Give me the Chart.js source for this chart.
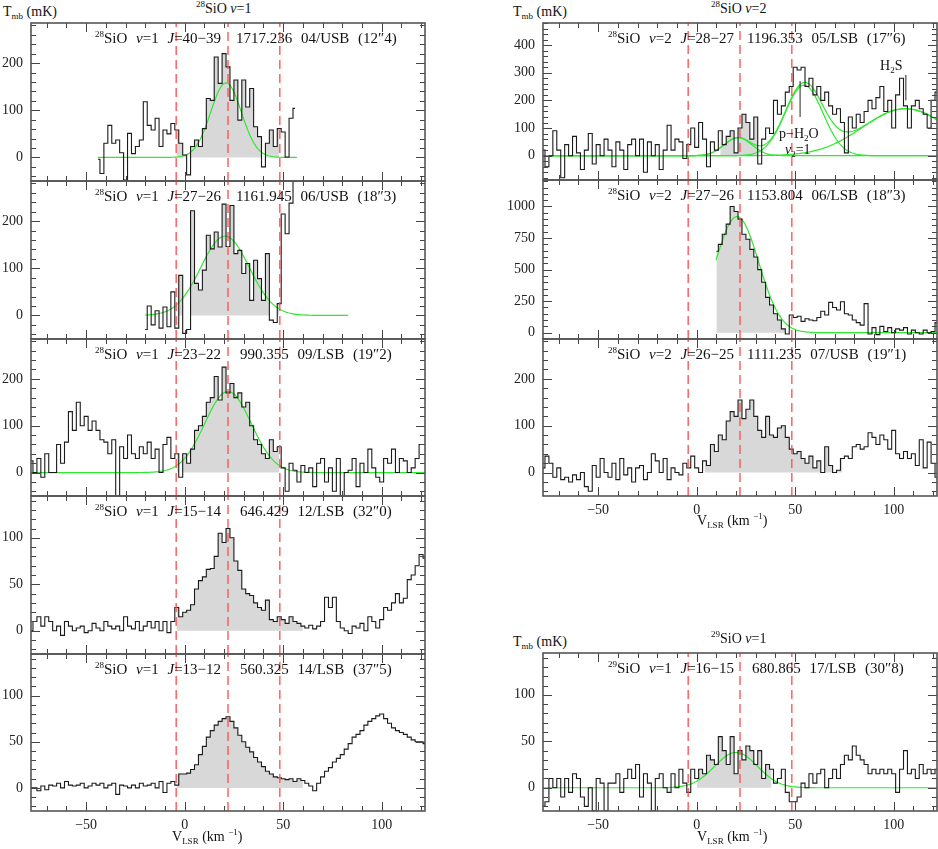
<!DOCTYPE html>
<html>
<head>
<meta charset="utf-8">
<script src="https://cdn.jsdelivr.net/npm/chart.js@4.4.0/dist/chart.umd.min.js"></script>
<style>
  body { margin: 0; background: #fff; }
  #wrap { position: relative; width: 938px; height: 849px; font-family: "Liberation Serif", serif; color: #111; }
  canvas { position: absolute; }
  .t { position: absolute; white-space: nowrap; line-height: 1; font-size: 14px; }
  .t sup { font-size: 9px; vertical-align: 6px; line-height: 0; }
  .t sub { font-size: 9px; vertical-align: -3px; line-height: 0; }
  .lab { font-size: 15px; word-spacing: 5px; }
</style>
</head>
<body>
<div id="wrap"></div>
<script>
// velocity axis (km/s) shared by all panels
const vRange = [-78, 122];
const xTicks = [-50, 0, 50, 100];
const redLines = [-4.3, 22, 48.3];
const chanWidth = 2;

// spectra: first channel velocity + Tmb values (mK), one value per 2 km/s channel
const startL1 = -44;
const specL1 = [-4, -34, 30, 68, 30, 37, 10, -48, 51, 8, 23, 37, 118, 68, 58, 83, 23, 58, 50, 72,
  58, 30, 5, -37, 23, 37, 23, 61, 125, 121, 213, 157, 220, 192, 121, 164, 79, 164, 107, 146,
  65, 44, -20, 30, 58, 23, 61, 54, 1, 83, 104];
const startL2 = -20;
const specL2 = [-30, 20, -20, 10, -27, 18, -24, 50, -27, 85, -38, -30, 222, 68, 54, 96, 170, 141, 177, 145,
  236, 146, 233, 131, 138, 89, 110, 32, 117, 78, 32, 131, -10, -15, 25, 215, 173, 238, 290];
const startL3 = -78;
const specL3 = [25, 0, 30, -10, 40, 0, 0, 60, 20, 65, 130, 90, 150, 100, 120, 90, 110, 90, 70, 65,
  40, 70, -50, 55, 30, 80, 40, 30, 55, 40, 65, 30, 50, 0, 60, 75, 30, 40, -10, 40,
  20, 50, 90, 100, 120, 150, 160, 205, 155, 225, 170, 190, 160, 170, 140, 150, 100, 70, 60, 40,
  30, 70, 45, 55, 10, -40, 20, 5, -20, 15, 0, 10, -30, 20, 30, -20, 10, -40, 30, -50,
  0, 5, 30, -30, 20, 0, 50, 10, -10, -20, 30, 20, 50, 0, 30, 25, 0, 10, 30, 60, 60];
const startL4 = -78;
const specL4 = [0, 10, 15, 5, 15, 10, 0, 5, -5, 10, 5, 0, 3, 5, -2, 0, 8, 3, 0, 10,
  5, 2, 5, 0, 15, 5, 2, 10, 0, 5, 10, 3, 10, 0, 10, -2, 10, 25, 15, 20,
  22, 28, 45, 54, 58, 66, 67, 80, 105, 95, 110, 100, 75, 65, 45, 40, 38, 30, 25, 22,
  33, 12, 10, 15, 12, 8, 15, 10, 8, 5, 3, 6, 2, 5, 10, 36, 25, 36, 10, 3,
  0, -3, 5, 3, 8, 0, 15, 10, 3, 12, 25, 22, 30, 40, 30, 35, 55, 60, 70, 82, 78];
const startL5 = -78;
const specL5 = [0, 0, -3, 2, -2, 3, 2, 5, 0, 7, 3, 2, 3, 5, 0, 2, 5, 3, 5, 0,
  3, 5, -7, 3, 2, 0, 3, 0, 5, 2, 3, 5, 0, 7, -5, 5, 7, 3, 15, 15,
  16, 20, 25, 36, 45, 55, 62, 68, 72, 75, 77, 72, 65, 57, 50, 44, 39, 33, 28, 23,
  18, 15, 12, 11, 10, 9, 10, 7, 10, 8, 5, 2, -3, 5, 12, 18, 22, 28, 32, 36,
  42, 48, 55, 58, 62, 68, 72, 75, 78, 80, 75, 70, 65, 62, 60, 58, 55, 52, 50, 50, 48];
const startR1 = -78;
const specR1 = [20, -40, 0, 90, 20, -80, 40, 0, 70, 10, -50, 20, 80, -30, 40, 0, 60, 20, -40, 50,
  20, -50, 40, 60, 0, 60, -60, 50, 0, 40, -50, 20, 110, 20, 60, 50, -10, 40, 100, 30,
  120, 60, -40, 50, 20, 90, 40, 70, 90, 10, 100, 150, 120, 60, 140, -30, 60, 100, 80, 200,
  150, 180, 230, 250, 320, 310, 320, 250, 280, 220, 250, 200, 230, 180, 150, 170, 120, 10, 140, 100,
  150, 120, 160, 200, 170, 210, 250, 160, 200, 100, 220, 280, 180, 100, 180, 200, 170, 150, 100, 200, 230];
const startR2 = 10;
const specR2 = [645, 700, 780, 860, 1000, 960, 900, 780, 740, 660, 600, 500, 400, 280, 220, 150, 100, 30, -10, 140,
  120, 130, 90, 110, 100, 95, 120, 170, 140, 240, 200, 180, 245, 150, 140, 100, 80, 60, 230, -10,
  40, -15, 50, 10, 40, 0, 30, 20, 40, -10, 20, 0, -10, 20, 0, 10, 80];
const startR3 = -78;
const specR3 = [10, 35, 20, -10, 10, -15, -10, -20, -5, -15, 0, -30, -40, 15, -10, 30, 0, -10, 20, -15,
  30, -5, 10, -20, 10, 15, -15, 0, 40, 25, 0, 30, -15, 10, 0, -5, 20, 10, 35, 10,
  0, 25, 15, 60, 45, 80, 70, 110, 130, 120, 155, 115, 135, 155, 120, 90, 75, 120, 80, 75,
  95, 100, 75, 50, 40, 45, 30, 20, 35, 10, 25, 0, 55, 15, 0, 5, 30, 35, 30, 55,
  60, 50, 55, 85, 75, 60, 80, 70, 50, 90, 40, 30, 45, 30, 40, 15, 70, 10, 65, 20, -10];
const startR4 = -78;
const specR4 = [-20, -15, 10, 0, 10, -10, 10, -5, 15, 10, -10, -20, 0, -25, 10, 5, -25, 5, 5, 15,
  -5, 10, 20, 10, 25, -10, 15, 5, -25, 10, 15, 0, -5, 15, 0, 20, 5, -5, 20, 10,
  20, 15, 35, 30, 25, 55, 40, 25, 55, 15, 40, 30, 45, 40, 25, 40, 10, 25, 20, 5,
  10, 20, -5, -15, -15, -10, 5, 0, 15, 5, 15, 20, 0, 10, 20, 10, 25, 35, 30, 45,
  35, 30, 25, 15, 20, 15, 20, 15, 20, 15, -5, 20, 40, 15, 20, 10, 25, 15, 20, 15, 20];

// gaussian fits: [amplitude mK, centre km/s, sigma km/s]
const fitL1 = [[158, 21, 7.8]];
const fitL2 = [[168, 20.5, 12.3]];
const fitL3 = [[173, 22, 11.8]];
const fitR1 = [[65, 21, 7], [255, 54.5, 9.6], [170, 106, 21.7]];
const fitR2 = [[920, 20.5, 11]];
const fitR4 = [[38, 20, 10.9]];

// y tick labels per panel
const yTicks100 = [0, 100, 200];
const yTicks50 = [0, 50, 100];
const yTicksR1 = [0, 100, 200, 300, 400];
const yTicksR2 = [0, 250, 500, 750, 1000];

// line identifications
const lineNames = ["<sup>28</sup>SiO <i>ν</i>=1 <i>J</i>=40−39", "<sup>28</sup>SiO <i>ν</i>=1 <i>J</i>=27−26",
  "<sup>28</sup>SiO <i>ν</i>=1 <i>J</i>=23−22", "<sup>28</sup>SiO <i>ν</i>=1 <i>J</i>=15−14",
  "<sup>28</sup>SiO <i>ν</i>=1 <i>J</i>=13−12", "<sup>28</sup>SiO <i>ν</i>=2 <i>J</i>=28−27",
  "<sup>28</sup>SiO <i>ν</i>=2 <i>J</i>=27−26", "<sup>28</sup>SiO <i>ν</i>=2 <i>J</i>=26−25",
  "<sup>29</sup>SiO <i>ν</i>=1 <i>J</i>=16−15"];
const lineFreqs = ["1717.236 04/USB (12″4)", "1161.945 06/USB (18″3)", "990.355 09/LSB (19″2)",
  "646.429 12/LSB (32″0)", "560.325 14/LSB (37″5)", "1196.353 05/LSB (17″6)",
  "1153.804 06/LSB (18″3)", "1111.235 07/USB (19″1)", "680.865 17/LSB (30″8)"];

// marker lines for blended lines in the v=2 J=28-27 panel: [v, y0, y1]
const markR1 = [[52.5, 140, 270], [106.2, 200, 292]];

const wrap = document.getElementById("wrap");

const panels = [
  { col: 0, top: 23, bottom: 181, ymin: -50, ymax: 285, yt: yTicks100, minor: 20, major: 100, v0: startL1, spec: specL1, fill: [-4.3, 48.3], fits: fitL1, fitRange: [-44, 57], xl: false },
  { col: 0, top: 181, bottom: 339, ymin: -50, ymax: 285, yt: yTicks100, minor: 20, major: 100, v0: startL2, spec: specL2, fill: [-4.3, 48.3], fits: fitL2, fitRange: [-20, 83], xl: false },
  { col: 0, top: 339, bottom: 496, ymin: -50, ymax: 285, yt: yTicks100, minor: 20, major: 100, v0: startL3, spec: specL3, fill: [-4.3, 48.3], fits: fitL3, fitRange: vRange, xl: false },
  { col: 0, top: 496, bottom: 654, ymin: -25, ymax: 145, yt: yTicks50, minor: 10, major: 50, v0: startL4, spec: specL4, fill: [-4.3, 61], fits: [], xl: false },
  { col: 0, top: 654, bottom: 811, ymin: -25, ymax: 145, yt: yTicks50, minor: 10, major: 50, v0: startL5, spec: specL5, fill: [-4.3, 61], fits: [], xl: true },
  { col: 1, top: 23, bottom: 180, ymin: -88, ymax: 480, yt: yTicksR1, minor: 20, major: 100, v0: startR1, spec: specR1, fill: [12, 33], fits: fitR1, fitRange: vRange, sum: true, xl: false, marks: markR1 },
  { col: 1, top: 180, bottom: 339, ymin: -50, ymax: 1210, yt: yTicksR2, minor: 50, major: 250, v0: startR2, spec: specR2, fill: [9, 47], fits: fitR2, fitRange: [9.8, 122], xl: false },
  { col: 1, top: 339, bottom: 496, ymin: -50, ymax: 285, yt: yTicks100, minor: 20, major: 100, v0: startR3, spec: specR3, fill: [3, 75], fits: [], xl: true },
  { col: 1, top: 653, bottom: 811, ymin: -25, ymax: 145, yt: yTicks50, minor: 10, major: 50, v0: startR4, spec: specR4, fill: [0, 38], fits: fitR4, fitRange: vRange, xl: true },
];

const gauss = (p, v) => p[0] * Math.exp(-((v - p[1]) ** 2) / (2 * p[2] * p[2]));

// inward ticks on all four sides + frame
const frameTicks = {
  id: "frameTicks",
  afterDatasetsDraw(chart, args, opts) {
    const { ctx, chartArea: a, scales: { x, y } } = chart;
    ctx.save();
    ctx.strokeStyle = "#444";
    ctx.lineWidth = 1;
    const seg = (x0, y0, x1, y1) => { ctx.beginPath(); ctx.moveTo(x0, y0); ctx.lineTo(x1, y1); ctx.stroke(); };
    for (let v = Math.ceil(x.min / 10) * 10; v <= x.max; v += 10) {
      const px = Math.round(x.getPixelForValue(v)) + 0.5;
      const len = v % 50 === 0 ? 9 : 5;
      seg(px, a.bottom, px, a.bottom - len);
      seg(px, a.top, px, a.top + len);
    }
    for (let v = Math.ceil(y.min / opts.minor) * opts.minor; v <= y.max; v += opts.minor) {
      const py = Math.round(y.getPixelForValue(v)) + 0.5;
      const len = v % opts.major === 0 ? 9 : 5;
      seg(a.left, py, a.left + len, py);
      seg(a.right, py, a.right - len, py);
    }
    ctx.strokeStyle = "#555";
    ctx.lineWidth = 1.6;
    ctx.strokeRect(a.left, a.top, a.right - a.left, a.bottom - a.top);
    ctx.restore();
  }
};

panels.forEach((p, i) => {
  const left = p.col === 0 ? 0 : 500;
  const width = p.col === 0 ? 428 : 438;
  const yw = p.col === 0 ? 31 : 43;
  const height = p.bottom - p.top + 2 + (p.xl ? 26 : 2);
  const canvas = document.createElement("canvas");
  canvas.width = width;
  canvas.height = height;
  canvas.style.left = left + "px";
  canvas.style.top = (p.top - 2) + "px";
  wrap.appendChild(canvas);

  const pts = p.spec.map((t, k) => ({ x: p.v0 + k * chanWidth, y: t }));
  const fillPts = pts.filter(q => q.x >= p.fill[0] && q.x <= p.fill[1]).map(q => ({ x: q.x, y: Math.max(0, q.y) }));

  const datasets = [];
  datasets.push({ data: fillPts, stepped: "middle", fill: "origin", backgroundColor: "#d8d8d8", borderWidth: 0, pointRadius: 0, order: 5 });
  datasets.push({ data: pts, stepped: "middle", borderColor: "#1a1a1a", borderWidth: 1.1, pointRadius: 0, order: 2 });

  const curves = p.fits.map(f => []);
  const sumCurve = [];
  if (p.fits.length) {
    for (let v = p.fitRange[0]; v <= p.fitRange[1] + 1e-6; v += 0.5) {
      let s = 0;
      p.fits.forEach((f, j) => { const g = gauss(f, v); curves[j].push({ x: v, y: g }); s += g; });
      sumCurve.push({ x: v, y: s });
    }
    curves.forEach(c => datasets.push({ data: c, borderColor: "#2fe82f", borderWidth: 1.2, pointRadius: 0, order: 3 }));
    if (p.sum) datasets.push({ data: sumCurve, borderColor: "#2fe82f", borderWidth: 1.2, pointRadius: 0, order: 3 });
  }

  redLines.forEach(v => datasets.push({
    data: [{ x: v, y: p.ymin }, { x: v, y: p.ymax }],
    borderColor: "rgba(255,80,80,0.9)", borderWidth: 1.5, borderDash: [9, 5], pointRadius: 0, order: 1
  }));

  (p.marks || []).forEach(m => datasets.push({
    data: [{ x: m[0], y: m[1] }, { x: m[0], y: m[2] }],
    borderColor: "#222", borderWidth: 1, pointRadius: 0, order: 1
  }));

  new Chart(canvas, {
    type: "line",
    data: { datasets },
    options: {
      responsive: false,
      animation: false,
      devicePixelRatio: 1,
      layout: { padding: { top: 2, bottom: p.xl ? 0 : 2, right: width - (p.col === 0 ? 425 : 937) + left, left: 0 } },
      plugins: { legend: { display: false }, tooltip: { enabled: false }, frameTicks: { minor: p.minor, major: p.major } },
      scales: {
        x: {
          type: "linear", min: vRange[0], max: vRange[1], display: p.xl,
          grid: { display: false, drawTicks: false }, border: { display: false },
          afterBuildTicks: s => { s.ticks = xTicks.map(v => ({ value: v })); },
          afterFit: s => { s.height = p.xl ? 26 : 0; s.paddingLeft = 0; s.paddingRight = 0; },
          ticks: { padding: 6, color: "#222", font: { family: "Liberation Serif", size: 14 }, maxRotation: 0,
            callback: v => String(v).replace("-", "−") }
        },
        y: {
          type: "linear", min: p.ymin, max: p.ymax,
          grid: { display: false, drawTicks: false }, border: { display: false },
          afterBuildTicks: s => { s.ticks = p.yt.map(v => ({ value: v })); },
          afterFit: s => { s.width = yw; s.paddingTop = 0; s.paddingBottom = 0; },
          ticks: { padding: 8, color: "#222", font: { family: "Liberation Serif", size: 14 },
            callback: v => String(v) }
        }
      }
    },
    plugins: [frameTicks]
  });

  // line id label inside the panel
  const lx = p.col === 0 ? 95 : 608;
  const fx = p.col === 0 ? (i < 2 ? 236 : 240) : (i === 8 ? 752 : 747);
  addText(lx, p.top + 8, lineNames[i], "lab");
  addText(fx, p.top + 8, lineFreqs[i], "lab");
});

function addText(x, y, html, cls) {
  const d = document.createElement("div");
  d.className = "t" + (cls ? " " + cls : "");
  d.style.left = x + "px";
  d.style.top = y + "px";
  d.innerHTML = html;
  wrap.appendChild(d);
}

// headers and axis titles
addText(3, 5, "T<sub>mb</sub> (mK)");
addText(196, 2, "<sup>28</sup>SiO <i>ν</i>=1");
addText(513, 5, "T<sub>mb</sub> (mK)");
addText(711, 2, "<sup>28</sup>SiO <i>ν</i>=2");
addText(513, 635, "T<sub>mb</sub> (mK)");
addText(711, 632, "<sup>29</sup>SiO <i>ν</i>=1");
addText(172, 830, "V<sub>LSR</sub> (km <sup>−1</sup>)");
addText(697, 514, "V<sub>LSR</sub> (km <sup>−1</sup>)");
addText(697, 830, "V<sub>LSR</sub> (km <sup>−1</sup>)");
addText(880, 59, "H<sub>2</sub>S");
addText(779, 127, "p−H<sub>2</sub>O");
addText(785, 143, "<i>ν</i><sub>2</sub>=1");
</script>
</body>
</html>
